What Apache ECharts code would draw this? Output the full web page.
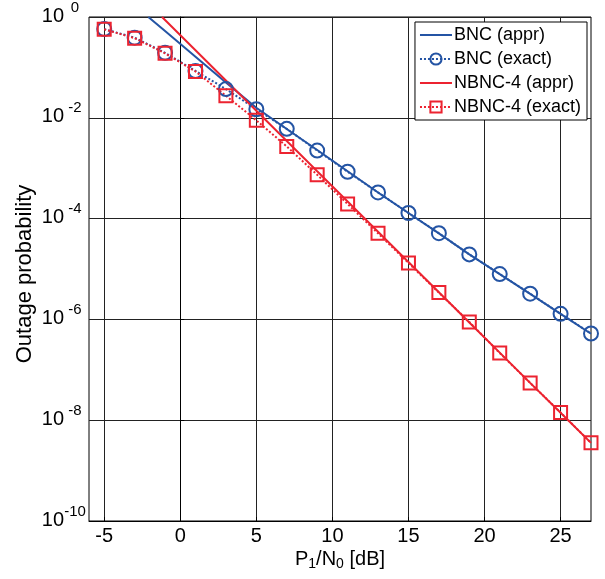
<!DOCTYPE html>
<html>
<head>
<meta charset="utf-8">
<script src="https://cdn.jsdelivr.net/npm/echarts@6/dist/echarts.min.js"></script>
<style>html,body{margin:0;padding:0;background:#fff;}#c{width:605px;height:579px;}</style>
</head>
<body>
<div id="c"></div>
<script>
// ---- data ----
const xTicks = [-5, 0, 5, 10, 15, 20, 25];
const yTickExps = [-10, -8, -6, -4, -2, 0];

const exactX = [-5, -3, -1, 1, 3, 5, 7, 9, 11, 13, 15, 17, 19, 21, 23, 25, 27];
const bncExact = [0.575, 0.389, 0.195, 0.0851, 0.0372, 0.0148, 0.00603, 0.00224, 8.51e-4, 3.31e-4, 1.29e-4, 5.13e-5, 1.95e-5, 7.94e-6, 3.24e-6, 1.29e-6, 5.25e-7];
const nbncExact = [0.57, 0.38, 0.19, 0.083, 0.0275, 0.0089, 0.0027, 7.4e-4, 1.95e-4, 5.1e-5, 1.32e-5, 3.4e-6, 8.9e-7, 2.15e-7, 5.5e-8, 1.42e-8, 3.55e-9];

const bncApprX = [-2.1, -1, 1, 3, 5, 7, 9, 11, 13, 15, 17, 19, 21, 23, 25, 27];
const bncAppr = [1.0, 0.525, 0.162, 0.0501, 0.0158, 0.0060, 0.0023, 8.7e-4, 3.3e-4, 1.29e-4, 5.1e-5, 1.95e-5, 7.9e-6, 3.2e-6, 1.29e-6, 5.2e-7];

const nbncApprX = [-1.2, 1, 3, 5, 7, 9, 11, 13, 15, 17, 19, 21, 23, 25, 27];
const nbncAppr = [1.0, 0.219, 0.055, 0.0138, 3.47e-3, 8.7e-4, 2.19e-4, 5.5e-5, 1.38e-5, 3.47e-6, 8.7e-7, 2.19e-7, 5.5e-8, 1.41e-8, 3.55e-9];

const seriesNames = ['BNC (appr)', 'BNC (exact)', 'NBNC-4 (appr)', 'NBNC-4 (exact)'];

// ---- chart ----
const BLUE = '#2454a4';
const RED = '#ec2330';
const FONT = 'Liberation Sans, Arial, sans-serif';
const zip = (xs, ys) => xs.map((x, i) => [x, ys[i]]);
const hiddenSymbol = {color: 'rgba(0,0,0,0)', borderColor: 'rgba(0,0,0,0)', borderWidth: 0, opacity: 0};

const chart = echarts.init(document.getElementById('c'), null, {renderer: 'canvas'});
chart.setOption({
  animation: false,
  backgroundColor: '#fff',
  textStyle: {fontFamily: FONT},
  grid: {left: 89, top: 16, right: 14, bottom: 58, show: true, borderColor: '#000', borderWidth: 1, backgroundColor: 'transparent'},
  legend: {
    orient: 'vertical',
    right: 18, top: 22,
    backgroundColor: '#fff',
    borderColor: '#000', borderWidth: 1,
    borderRadius: 0,
    padding: [3, 6, 3, 4],
    itemWidth: 32, itemHeight: 14, itemGap: 4,
    textStyle: {fontFamily: FONT, fontSize: 18, color: '#000', lineHeight: 20, padding: [0, 0, 0, -3]},
    data: [
      {name: seriesNames[0], itemStyle: hiddenSymbol},
      {name: seriesNames[1]},
      {name: seriesNames[2], itemStyle: hiddenSymbol},
      {name: seriesNames[3]}
    ]
  },
  xAxis: {
    type: 'value', min: -6, max: 27,
    axisLine: {show: true, onZero: false, lineStyle: {color: '#000', width: 1}},
    axisTick: {show: true, inside: true, length: 4, customValues: xTicks, lineStyle: {color: '#000'}},
    axisLabel: {customValues: xTicks, color: '#000', fontSize: 20, fontFamily: FONT, margin: 5},
    splitLine: {show: true, lineStyle: {color: '#222', width: 1}},
    name: '{m|P}{s|1}{m|/N}{s|0}{m| [dB]}',
    nameLocation: 'middle', nameGap: 27, nameMoveOverlap: false,
    nameTextStyle: {
      color: '#000', fontFamily: FONT,
      rich: {
        m: {fontSize: 20, fontFamily: FONT, color: '#000', lineHeight: 22},
        s: {fontSize: 14, fontFamily: FONT, color: '#000', padding: [10, 0, 0, 0], lineHeight: 22}
      }
    }
  },
  yAxis: {
    type: 'log', logBase: 10, min: 1e-10, max: 1, interval: 2,
    axisLine: {show: true, lineStyle: {color: '#000', width: 1}},
    axisTick: {show: true, inside: true, length: 4, lineStyle: {color: '#000'}},
    minorTick: {show: false},
    axisLabel: {
      color: '#000', margin: 3,
      formatter: function (v) {
        const e = Math.round(Math.log10(v));
        return '{b|10}{s|' + e + '}';
      },
      rich: {
        b: {fontSize: 20, fontFamily: FONT, color: '#000', lineHeight: 22, padding: [5, 0, 7, 0]},
        s: {fontSize: 15, fontFamily: FONT, color: '#000', width: 22, align: 'left', lineHeight: 15, padding: [0, 0, 19, 0]}
      }
    },
    splitLine: {show: true, lineStyle: {color: '#222', width: 1}},
    name: 'Outage probability',
    nameLocation: 'middle', nameGap: 53, nameRotate: 90, nameMoveOverlap: false,
    nameTextStyle: {color: '#000', fontSize: 22, fontFamily: FONT, padding: [0, 10, 0, 0]}
  },
  series: [
    {
      name: seriesNames[0], type: 'line', data: zip(bncApprX, bncAppr),
      symbol: 'none', showSymbol: false, clip: true,
      itemStyle: {color: BLUE},
      lineStyle: {color: BLUE, width: 2, type: 'solid'}
    },
    {
      name: seriesNames[1], type: 'line', data: zip(exactX, bncExact),
      symbol: 'circle', symbolSize: 14, clip: true,
      itemStyle: {color: 'rgba(255,255,255,0)', borderColor: BLUE, borderWidth: 2},
      lineStyle: {color: BLUE, width: 2, type: 'dotted'}
    },
    {
      name: seriesNames[2], type: 'line', data: zip(nbncApprX, nbncAppr),
      symbol: 'none', showSymbol: false, clip: true,
      itemStyle: {color: RED},
      lineStyle: {color: RED, width: 2, type: 'solid'}
    },
    {
      name: seriesNames[3], type: 'line', data: zip(exactX, nbncExact),
      symbol: 'rect', symbolSize: 13, clip: true,
      itemStyle: {color: 'rgba(255,255,255,0)', borderColor: RED, borderWidth: 2},
      lineStyle: {color: RED, width: 2, type: 'dotted'}
    }
  ]
});
</script>
</body>
</html>
